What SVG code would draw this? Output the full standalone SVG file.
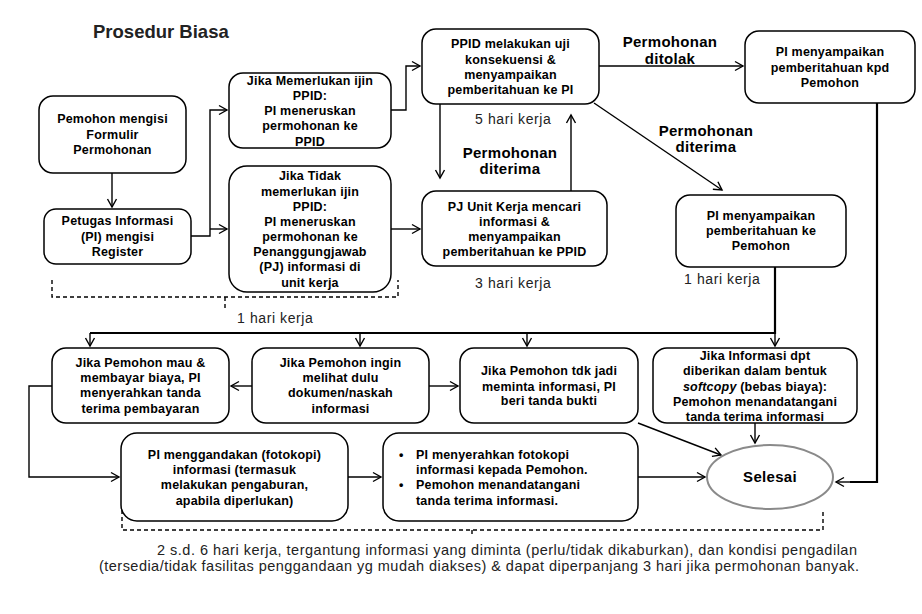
<svg xmlns="http://www.w3.org/2000/svg" width="922" height="614" viewBox="0 0 922 614">
<style>
.box{fill:#fff;stroke:#000;stroke-width:1.5}
.t{font-family:"Liberation Sans",Arial,sans-serif;font-weight:bold;font-size:12.5px;text-anchor:middle;fill:#000;letter-spacing:0.2px}
.tl{font-family:"Liberation Sans",Arial,sans-serif;font-weight:bold;font-size:12.5px;fill:#000;letter-spacing:0.2px}
.lab{font-family:"Liberation Sans",Arial,sans-serif;font-weight:bold;font-size:15px;text-anchor:middle;fill:#000;letter-spacing:0.3px}
.note{font-family:"Liberation Sans",Arial,sans-serif;font-size:14px;fill:#222;letter-spacing:0.6px}
.foot{font-family:"Liberation Sans",Arial,sans-serif;font-size:14.5px;fill:#222;text-anchor:middle}
.c{fill:none;stroke:#000;stroke-width:1.4}
.thick{fill:none;stroke:#000;stroke-width:2.2}
.dash{fill:none;stroke:#000;stroke-width:1.4;stroke-dasharray:4,3}
</style>
<defs>
<marker id="ar" markerUnits="userSpaceOnUse" markerWidth="12" markerHeight="12" refX="10" refY="6" orient="auto">
<path d="M2,1.5 L10,6 L2,10.5" fill="none" stroke="#000" stroke-width="1.4"/>
</marker>
</defs>
<rect width="922" height="614" fill="#fff"/>
<text x="93" y="38" font-family="Liberation Sans,Arial,sans-serif" font-weight="bold" font-size="18.5px" fill="#222">Prosedur Biasa</text>

<g id="connectors">
<path class="c" d="M112,173 V207" marker-end="url(#ar)"/>
<path class="c" d="M191,236 H210 V110 H227" marker-end="url(#ar)"/>
<path class="c" d="M210,229 H227" marker-end="url(#ar)"/>
<path class="c" d="M391,110 H406 V66 H420" marker-end="url(#ar)"/>
<path class="c" d="M599,66 H743" marker-end="url(#ar)"/>
<path class="c" d="M440,104 V178" marker-end="url(#ar)"/>
<path class="c" d="M571,191 V115" marker-end="url(#ar)"/>
<path class="c" d="M391,229 H420" marker-end="url(#ar)"/>
<path class="c" d="M594,103 L722,190" marker-end="url(#ar)"/>
<path class="thick" d="M775,267 V333 H90"/>
<path class="c" d="M90,333 V346" marker-end="url(#ar)"/>
<path class="c" d="M360,333 V346" marker-end="url(#ar)"/>
<path class="c" d="M527,333 V346" marker-end="url(#ar)"/>
<path class="c" d="M775,333 V346" marker-end="url(#ar)"/>
<path class="thick" d="M877,103 V482 H850"/>
<path class="c" d="M850,482 H836" marker-end="url(#ar)"/>
<path class="c" d="M252,386 H231" marker-end="url(#ar)"/>
<path class="c" d="M429,386 H458" marker-end="url(#ar)"/>
<path class="c" d="M52,386 H29 V477 H119" marker-end="url(#ar)"/>
<path class="c" d="M348,477 H381" marker-end="url(#ar)"/>
<path class="c" d="M638,477 H705" marker-end="url(#ar)"/>
<path class="c" d="M638,423 L721,455" marker-end="url(#ar)"/>
<path class="c" d="M755,423 V443" marker-end="url(#ar)"/>
<path class="dash" d="M52,280 V297 H398 V280"/>
<path class="dash" d="M225,297 V309"/>
<path class="dash" d="M122,510 V530 H823 V512"/>
<path class="dash" d="M472,530 V537"/>
</g>

<g id="nA"><rect class="box" x="39" y="96" width="147" height="77" rx="14"/>
<text class="t"><tspan x="112.5" y="123">Pemohon mengisi</tspan><tspan x="112.5" y="139">Formulir</tspan><tspan x="112.5" y="154">Permohonan</tspan></text></g>

<g id="nB"><rect class="box" x="44" y="209" width="147" height="55" rx="12"/>
<text class="t"><tspan x="117.5" y="225">Petugas Informasi</tspan><tspan x="117.5" y="241">(PI) mengisi</tspan><tspan x="117.5" y="256">Register</tspan></text></g>

<g id="nC"><rect class="box" x="229" y="73" width="162" height="75" rx="14"/>
<text class="t"><tspan x="310" y="85">Jika Memerlukan ijin</tspan><tspan x="310" y="100">PPID:</tspan><tspan x="310" y="115">PI meneruskan</tspan><tspan x="310" y="130">permohonan ke</tspan><tspan x="310" y="146">PPID</tspan></text></g>

<g id="nD"><rect class="box" x="229" y="166" width="162" height="126" rx="18"/>
<text class="t"><tspan x="310" y="180">Jika Tidak</tspan><tspan x="310" y="196">memerlukan ijin</tspan><tspan x="310" y="211">PPID:</tspan><tspan x="310" y="226">PI meneruskan</tspan><tspan x="310" y="241">permohonan ke</tspan><tspan x="310" y="256">Penanggungjawab</tspan><tspan x="310" y="271">(PJ) informasi di</tspan><tspan x="310" y="287">unit kerja</tspan></text></g>

<g id="nE"><rect class="box" x="422" y="29" width="177" height="75" rx="14"/>
<text class="t"><tspan x="510.5" y="48">PPID melakukan uji</tspan><tspan x="510.5" y="64">konsekuensi &amp;</tspan><tspan x="510.5" y="79">menyampaikan</tspan><tspan x="510.5" y="94">pemberitahuan  ke PI</tspan></text></g>

<g id="nF"><rect class="box" x="745" y="31" width="170" height="72" rx="14"/>
<text class="t"><tspan x="830" y="56">PI menyampaikan</tspan><tspan x="830" y="72">pemberitahuan  kpd</tspan><tspan x="830" y="87">Pemohon</tspan></text></g>

<g id="nG"><rect class="box" x="422" y="191" width="185" height="75" rx="14"/>
<text class="t"><tspan x="514.5" y="211">PJ Unit Kerja mencari</tspan><tspan x="514.5" y="226">informasi &amp;</tspan><tspan x="514.5" y="241">menyampaikan</tspan><tspan x="514.5" y="256">pemberitahuan  ke PPID</tspan></text></g>

<g id="nH"><rect class="box" x="676" y="195" width="170" height="72" rx="14"/>
<text class="t"><tspan x="761" y="220">PI menyampaikan</tspan><tspan x="761" y="235">pemberitahuan  ke</tspan><tspan x="761" y="250">Pemohon</tspan></text></g>

<g id="nI"><rect class="box" x="52" y="348" width="177" height="75" rx="14"/>
<text class="t"><tspan x="140.5" y="367">Jika Pemohon  mau &amp;</tspan><tspan x="140.5" y="382">membayar biaya, PI</tspan><tspan x="140.5" y="397">menyerahkan tanda</tspan><tspan x="140.5" y="413">terima pembayaran</tspan></text></g>

<g id="nJ"><rect class="box" x="252" y="348" width="177" height="75" rx="14"/>
<text class="t"><tspan x="340.5" y="367">Jika Pemohon  ingin</tspan><tspan x="340.5" y="382">melihat dulu</tspan><tspan x="340.5" y="397">dokumen/naskah</tspan><tspan x="340.5" y="413">informasi</tspan></text></g>

<g id="nK"><rect class="box" x="460" y="348" width="178" height="75" rx="14"/>
<text class="t"><tspan x="549" y="375">Jika Pemohon  tdk jadi</tspan><tspan x="549" y="391">meminta informasi, PI</tspan><tspan x="549" y="405">beri tanda bukti</tspan></text></g>

<g id="nL"><rect class="box" x="653" y="348" width="204" height="75" rx="14"/>
<text class="t"><tspan x="755" y="360">Jika Informasi dpt</tspan><tspan x="755" y="375">diberikan dalam bentuk</tspan><tspan x="755" y="391"><tspan font-style="italic">softcopy</tspan> (bebas biaya):</tspan><tspan x="755" y="406">Pemohon menandatangani</tspan><tspan x="755" y="421">tanda terima informasi</tspan></text></g>

<g id="nM"><rect class="box" x="121" y="433" width="227" height="88" rx="16"/>
<text class="t"><tspan x="234.5" y="459">PI menggandakan (fotokopi)</tspan><tspan x="234.5" y="474">informasi (termasuk</tspan><tspan x="234.5" y="489">melakukan pengaburan,</tspan><tspan x="234.5" y="505">apabila  diperlukan)</tspan></text></g>

<g id="nN"><rect class="box" x="383" y="433" width="255" height="88" rx="16"/>
<text class="tl"><tspan x="399" y="459">•</tspan><tspan x="416" y="459">PI menyerahkan fotokopi</tspan><tspan x="416" y="474">informasi kepada Pemohon.</tspan><tspan x="399" y="489">•</tspan><tspan x="416" y="489">Pemohon menandatangani</tspan><tspan x="416" y="505">tanda terima informasi.</tspan></text></g>

<g id="nSelesai"><ellipse cx="770" cy="477" rx="63" ry="32" fill="#fff" stroke="#8a8a8a" stroke-width="2"/>
<text class="lab" x="770" y="482" font-size="14.5px">Selesai</text></g>

<g id="labels">
<text class="lab"><tspan x="670" y="47">Permohonan</tspan><tspan x="670" y="64">ditolak</tspan></text>
<text class="lab"><tspan x="510" y="158">Permohonan</tspan><tspan x="510" y="174">diterima</tspan></text>
<text class="lab"><tspan x="706" y="136">Permohonan</tspan><tspan x="706" y="152">diterima</tspan></text>
<text class="note" x="475" y="124">5 hari kerja</text>
<text class="note" x="475" y="288">3 hari kerja</text>
<text class="note" x="684" y="284">1 hari kerja</text>
<text class="note" x="237" y="323">1 hari kerja</text>
<text class="foot" x="507" y="555" textLength="700" lengthAdjust="spacing">2 s.d. 6 hari kerja, tergantung informasi yang diminta (perlu/tidak dikaburkan), dan kondisi pengadilan</text>
<text class="foot" x="479" y="571" textLength="760" lengthAdjust="spacing">(tersedia/tidak fasilitas penggandaan yg mudah diakses) &amp; dapat diperpanjang 3 hari jika permohonan banyak.</text>
</g>
</svg>
